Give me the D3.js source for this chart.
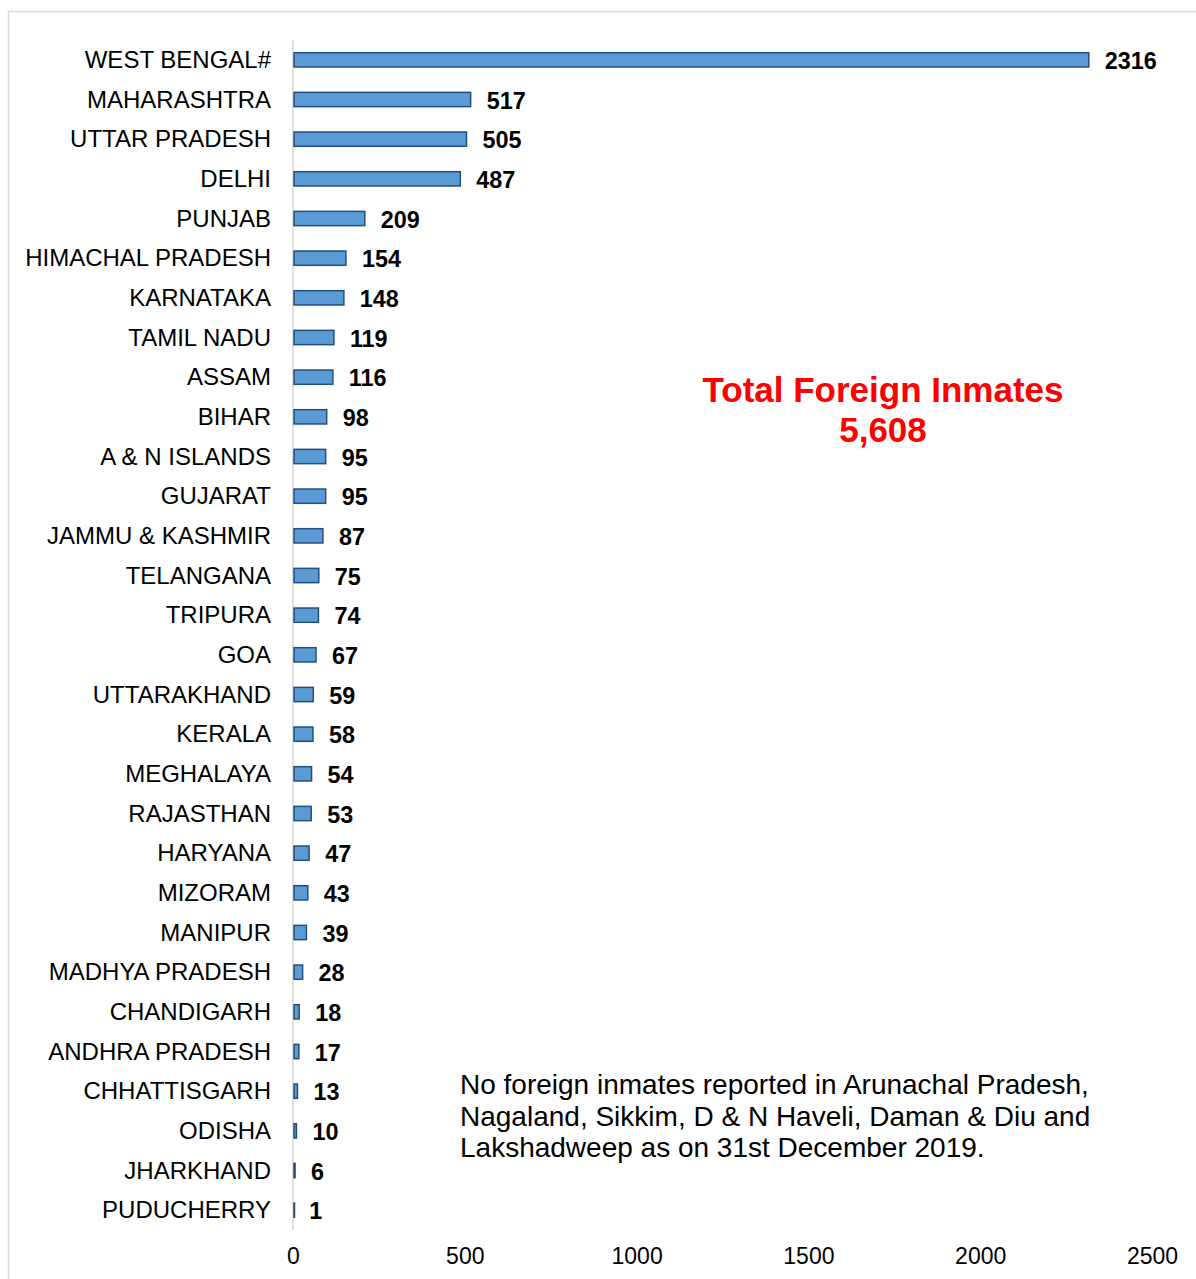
<!DOCTYPE html>
<html>
<head>
<meta charset="utf-8">
<script src="https://cdn.jsdelivr.net/npm/d3@7"></script>
<style>
  body { margin: 0; background: #fff; }
  svg { display: block; }
  text { font-family: "Liberation Sans", Arial, sans-serif; }
</style>
</head>
<body>
<svg id="chart" width="1196" height="1279"></svg>
<script>
const states = ["WEST BENGAL#","MAHARASHTRA","UTTAR PRADESH","DELHI","PUNJAB","HIMACHAL PRADESH","KARNATAKA","TAMIL NADU","ASSAM","BIHAR","A & N ISLANDS","GUJARAT","JAMMU & KASHMIR","TELANGANA","TRIPURA","GOA","UTTARAKHAND","KERALA","MEGHALAYA","RAJASTHAN","HARYANA","MIZORAM","MANIPUR","MADHYA PRADESH","CHANDIGARH","ANDHRA PRADESH","CHHATTISGARH","ODISHA","JHARKHAND","PUDUCHERRY"];
const inmates = [2316,517,505,487,209,154,148,119,116,98,95,95,87,75,74,67,59,58,54,53,47,43,39,28,18,17,13,10,6,1];
const xTicks = [0,500,1000,1500,2000,2500];
const totalLines = ["Total Foreign Inmates","5,608"];
const noteLines = ["No foreign inmates reported in Arunachal Pradesh,","Nagaland, Sikkim, D & N Haveli, Daman & Diu and","Lakshadweep as on 31st December 2019."];

const svg = d3.select("#chart");
svg.append("rect").attr("x",8.5).attr("y",11.5).attr("width",1300).attr("height",1400)
  .attr("fill","#fff").attr("stroke","#d9d9d9").attr("stroke-width",1.5);

const data = states.map((s,i)=>({s, v: inmates[i]}));
const x = d3.scaleLinear().domain([0,2500]).range([293,1152]);
const y = d3.scaleBand().domain(states).range([40,1230]).paddingInner(0.64).paddingOuter(0.32);

// axis line
svg.append("line").attr("x1",293).attr("x2",293).attr("y1",40).attr("y2",1230)
  .attr("stroke","#d9d9d9").attr("stroke-width",1.5);

svg.selectAll("rect.bar").data(data).enter().append("rect").attr("class","bar")
  .attr("x", x(0)+1).attr("y", d=>y(d.s))
  .attr("width", d=>Math.max(0.5, x(d.v)-x(0)-1)).attr("height", y.bandwidth())
  .attr("fill","#5b9bd5").attr("stroke","#234f7d").attr("stroke-width",1.5);

svg.selectAll("text.cat").data(data).enter().append("text").attr("class","cat")
  .attr("x",271).attr("y",d=>y(d.s)+y.bandwidth()/2+8)
  .attr("text-anchor","end").attr("font-size",24).attr("fill","#000").text(d=>d.s);

svg.selectAll("text.val").data(data).enter().append("text").attr("class","val")
  .attr("x",d=>x(d.v)+16).attr("y",d=>y(d.s)+y.bandwidth()/2+9)
  .attr("font-size",23.4).attr("font-weight","bold").attr("fill","#000").text(d=>d.v);

const xAxis = d3.axisBottom(x).tickValues(xTicks).tickSize(0).tickPadding(0).tickFormat(d3.format("d"));
const gx = svg.append("g").attr("transform","translate(0,1248)").call(xAxis);
gx.select(".domain").remove();
gx.selectAll("text").attr("font-size",23).attr("fill","#000")
  .attr("font-family","'Liberation Sans', Arial, sans-serif").attr("dy","0.71em");

svg.append("g").selectAll("text").data(totalLines).enter().append("text")
  .attr("x",883).attr("y",(d,i)=>402+i*40).attr("text-anchor","middle")
  .attr("font-size",35).attr("font-weight","bold").attr("fill","#ff0000").text(d=>d);

svg.append("g").selectAll("text").data(noteLines).enter().append("text")
  .attr("x",460).attr("y",(d,i)=>1094+i*31.5)
  .attr("font-size",28).attr("fill","#000").text(d=>d);
</script>
</body>
</html>
